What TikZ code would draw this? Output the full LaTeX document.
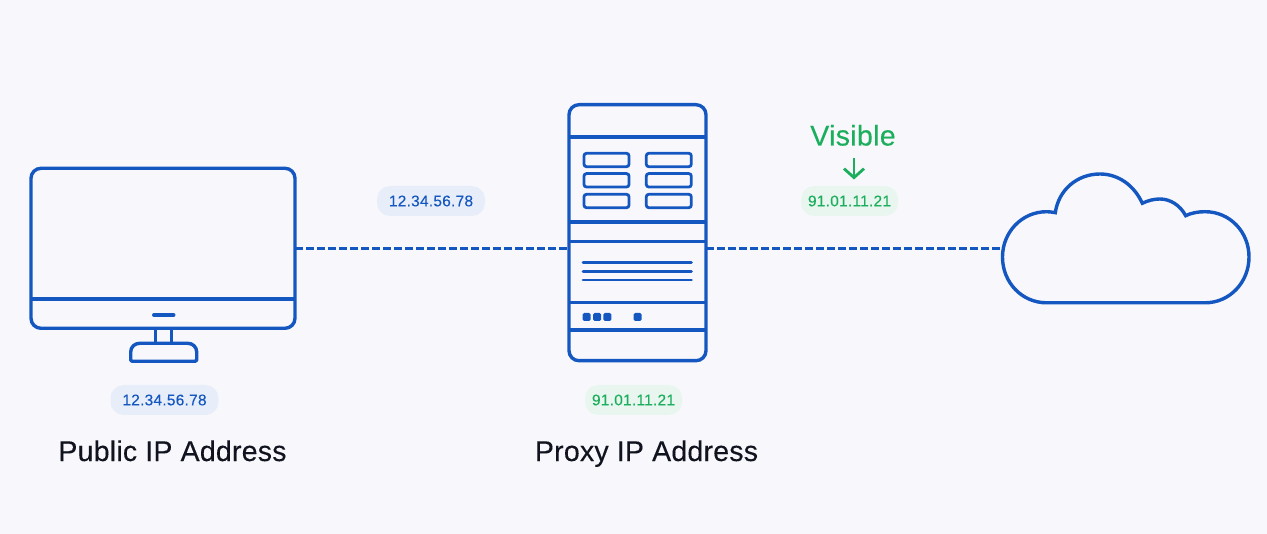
\documentclass[tikz,border=0pt]{standalone}
\usepackage{fontspec}
\setmainfont{Liberation Sans}
\usetikzlibrary{arrows.meta,calc}
\definecolor{bgc}{HTML}{F8F8FC}
\definecolor{blu}{HTML}{1557C0}
\definecolor{blufill}{HTML}{E7EEF9}
\definecolor{grn}{HTML}{1BAE5C}
\definecolor{grnfill}{HTML}{E8F6EF}
\definecolor{ink}{HTML}{11141F}
\tikzset{
  ln/.style={draw=blu,line width=3.4pt},
  thin ln/.style={draw=blu,line width=2.8pt},
  slot/.style={draw=blu,line width=2.8pt,rounded corners=2.5pt,minimum width=45pt,minimum height=13.4pt,inner sep=0pt,outer sep=0pt},
  dot/.style={fill=blu,rounded corners=1.5pt,minimum size=8pt,inner sep=0pt,outer sep=0pt},
  link/.style={draw=blu,line width=3pt,dash pattern=on 7.5pt off 3.5pt},
  pill/.style={rounded corners=13pt,minimum height=30pt,inner sep=0pt,font=\fontsize{15.5}{18}\selectfont\addfontfeature{LetterSpace=1.5,FakeBold=0.15}},
  bpill/.style={pill,fill=blufill,text=blu,minimum width=108pt},
  gpill/.style={pill,fill=grnfill,text=grn,minimum width=97pt},
  cap text/.style={text=ink,font=\fontsize{28.5}{32}\selectfont\addfontfeature{LetterSpace=0.8,FakeBold=0.2},inner sep=0pt,anchor=base}
}
\begin{document}
\begin{tikzpicture}[x=1pt,y=-1pt]
\useasboundingbox (0,0) rectangle (1267,534);
\fill[bgc] (0,0) rectangle (1267,534);
% links
\node[ln,rounded corners=10pt,minimum width=264pt,minimum height=160pt,inner sep=0pt,outer sep=0pt] (mon) at (163,248.3) {};
\node[ln,rounded corners=10pt,minimum width=137pt,minimum height=256pt,inner sep=0pt,outer sep=0pt] (srv) at (637.5,232.7) {};
\coordinate (srvw) at (569,248.3);
\coordinate (srve) at (706,248.3);
\coordinate (cldw) at (1002,248.3);
\draw[link] (mon.east) -- (srvw);
\draw[link] (srve) -- (cldw);
% monitor details
\draw[ln] (31,299) -- (295,299);
\draw[blu,line width=4pt,line cap=round] (154,315) -- (173.5,315);
\draw[ln] (155.3,328) -- (155.3,343.3);
\draw[ln] (171.7,328) -- (171.7,343.3);
\draw[ln,line join=round] (132.2,361.3) .. controls (131.2,361.3) and (130.7,360.8) .. (130.7,360)
  -- (130.7,352) .. controls (130.7,347) and (134.7,343.3) .. (139.7,343.3)
  -- (187.7,343.3) .. controls (192.7,343.3) and (196.7,347) .. (196.7,352)
  -- (196.7,360) .. controls (196.7,360.8) and (196.2,361.3) .. (195.2,361.3) -- cycle;
% server details
\foreach \yy in {137,222,241.7,302.7,330}{\draw[ln] (569,\yy) -- (706,\yy);}
\node[slot] (s1) at (606.5,160) {};
\node[slot] (s2) at (606.5,180.3) {};
\node[slot] (s3) at (606.5,201) {};
\node[slot] (s4) at (668.8,160) {};
\node[slot] (s5) at (668.8,180.3) {};
\node[slot] (s6) at (668.8,201) {};
\foreach \yy in {262.7,271.3,280}{\draw[thin ln,line cap=round] (583,\yy) -- (691.5,\yy);}
\node[dot] (d1) at (586.7,317) {};
\node[dot] (d2) at (597,317) {};
\node[dot] (d3) at (607.3,317) {};
\node[dot] (d4) at (637.7,317) {};
% cloud
\draw[ln,line join=miter] (1046.7,302.8) .. controls (1021.7,302.8) and (1002.5,282.3) .. (1002.5,257)
 .. controls (1002.5,232.3) and (1021.7,211.7) .. (1046.7,211.7)
 .. controls (1049.5,211.7) and (1052.5,212.2) .. (1055.3,212.7)
 .. controls (1058.5,190) and (1077,174) .. (1100,174)
 .. controls (1118,174) and (1134,185) .. (1142.3,203.3)
 .. controls (1148,200.5) and (1154,199) .. (1160,199)
 .. controls (1170,199) and (1180,205) .. (1185.7,215.7)
 .. controls (1191,213) and (1198,211.7) .. (1205,211.7)
 .. controls (1230,211.7) and (1249,232) .. (1249,257)
 .. controls (1249,282) and (1230,302.8) .. (1205,302.8) -- cycle;
% labels
\node[bpill] (p1) at (164.5,400) {12.34.56.78};
\node[bpill] (p2) at (431,201) {12.34.56.78};
\node[gpill] (p3) at (633.5,400) {91.01.11.21};
\node[gpill] (p4) at (849.5,201) {91.01.11.21};
\node[cap text] (t1) at (172.5,461) {Public IP Address};
\node[cap text] (t2) at (646.5,461) {Proxy IP Address};
\node[text=grn,font=\fontsize{28.5}{32}\selectfont\addfontfeature{LetterSpace=1.2,FakeBold=0.2},inner sep=0pt,anchor=base] (vis) at (853,145.5) {Visible};
\draw[grn,line width=2.8pt,-{Straight Barb[length=9pt,width=20pt,line width=2.8pt]}] (vis.south -| 854,0) ++(0,12) -- (854,179.5);
\end{tikzpicture}
\end{document}
